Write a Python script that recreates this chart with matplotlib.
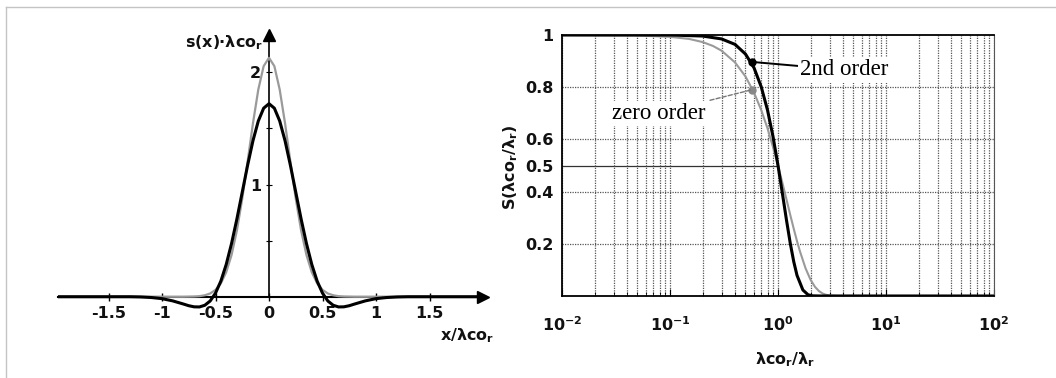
import matplotlib
matplotlib.use("Agg")
import matplotlib.pyplot as plt
from matplotlib.lines import Line2D
from matplotlib.ticker import LogLocator, NullFormatter, FixedLocator

# ---------------- data ----------------
# left panel: weighting functions s(x)*lambda_co
x_left = [-2.0, -1.6, -1.3, -1.2, -1.1, -1.0, -0.9, -0.8, -0.75, -0.7, -0.65, -0.6,
          -0.55, -0.5, -0.45, -0.4, -0.35, -0.3, -0.25, -0.2, -0.15, -0.1, -0.05, 0.0,
          0.05, 0.1, 0.15, 0.2, 0.25, 0.3, 0.35, 0.4, 0.45, 0.5, 0.55, 0.6,
          0.65, 0.7, 0.75, 0.8, 0.9, 1.0, 1.1, 1.2, 1.3, 1.6, 2.0]
s_second = [0.0, 0.0, 0.0, -0.002, -0.007, -0.017, -0.037, -0.065, -0.080, -0.090, -0.091, -0.076,
            -0.038, 0.032, 0.139, 0.287, 0.474, 0.693, 0.932, 1.171, 1.390, 1.566, 1.680, 1.720,
            1.680, 1.566, 1.390, 1.171, 0.932, 0.693, 0.474, 0.287, 0.139, 0.032, -0.038, -0.076,
            -0.091, -0.090, -0.080, -0.065, -0.037, -0.017, -0.007, -0.002, 0.0, 0.0, 0.0]
s_zero = [0.0, 0.0, 0.0, 0.0, 0.0, 0.0, 0.0, 0.0, 0.001, 0.002, 0.005, 0.013,
          0.029, 0.061, 0.119, 0.218, 0.372, 0.591, 0.874, 1.204, 1.545, 1.846, 2.055, 2.129,
          2.055, 1.846, 1.545, 1.204, 0.874, 0.591, 0.372, 0.218, 0.119, 0.061, 0.029, 0.013,
          0.005, 0.002, 0.001, 0.0, 0.0, 0.0, 0.0, 0.0, 0.0, 0.0, 0.0]
x_ticks_left = [-1.5, -1, -0.5, 0, 0.5, 1, 1.5]
x_ticklabels_left = ["-1.5", "-1", "-0.5", "0", "0.5", "1", "1.5"]
y_ticks_left = [1, 2]

# right panel: transmission characteristics
u_second = [0.01, 0.05, 0.1, 0.2, 0.3, 0.4, 0.5, 0.6, 0.7, 0.8, 0.9, 1.0,
            1.1, 1.2, 1.3, 1.4, 1.5, 1.7, 1.9, 2.1, 2.5, 100]
S_second = [1.0, 1.0, 1.0, 0.996, 0.985, 0.964, 0.927, 0.874, 0.801, 0.712, 0.610, 0.5,
            0.391, 0.289, 0.201, 0.131, 0.079, 0.023, 0.0045, 0.0006, 0.0, 0.0]
u_zero = [0.01, 0.05, 0.1, 0.15, 0.2, 0.25, 0.3, 0.4, 0.5, 0.6, 0.7, 0.8, 0.9, 1.0,
          1.1, 1.2, 1.3, 1.4, 1.5, 1.6, 1.8, 2.0, 2.2, 2.4, 2.6, 2.8, 3.0, 3.5, 100]
S_zero = [1.0, 0.998, 0.993, 0.985, 0.973, 0.958, 0.940, 0.895, 0.841, 0.779, 0.712, 0.642, 0.570, 0.5,
          0.432, 0.369, 0.310, 0.257, 0.210, 0.170, 0.106, 0.0625, 0.035, 0.0185, 0.0092, 0.0044, 0.002, 0.0002, 0.0]
y_ticks_right = [0.2, 0.4, 0.5, 0.6, 0.8, 1.0]
y_ticklabels_right = ["0.2", "0.4", "0.5", "0.6", "0.8", "1"]
marker_u = 0.57
marker_second = 0.897
marker_zero = 0.79

# ---------------- figure ----------------
W, H = 1056, 378
fig = plt.figure(figsize=(W / 100, H / 100), dpi=100)
fig.patch.set_facecolor("white")

def px(x0, y0, x1, y1):
    return [x0 / W, 1 - y1 / H, (x1 - x0) / W, (y1 - y0) / H]

# frame lines of the image
fig.add_artist(Line2D([6 / W, 1.0], [1 - 7 / H, 1 - 7 / H], color="#c4c4c4", lw=1.0))
fig.add_artist(Line2D([6 / W, 6 / W], [0.0, 1 - 7 / H], color="#c4c4c4", lw=1.0))

sans = "DejaVu Sans"
GRAY = "#9a9a9a"

# ---------------- left panel ----------------
axL = fig.add_axes(px(58, 33, 483, 330.4))
axL.set_xlim(-1.972, 2.0)
axL.set_ylim(-0.3, 2.35)
axL.plot(x_left, s_zero, color=GRAY, lw=1.6, zorder=3)
axL.plot(x_left, s_second, color="black", lw=2.2, zorder=4)

for side in ("top", "right"):
    axL.spines[side].set_visible(False)
axL.spines["left"].set_position(("data", 0))
axL.spines["bottom"].set_position(("data", 0))
axL.spines["left"].set_bounds(0, 2.3)
axL.spines["bottom"].set_bounds(-1.972, 1.95)
axL.spines["left"].set_linewidth(1.2)
axL.spines["bottom"].set_linewidth(1.5)
axL.plot(2.0, 0, marker=">", color="black", markersize=8, clip_on=False, zorder=5)
axL.plot(0, 2.33, marker="^", color="black", markersize=8, clip_on=False, zorder=5)

axL.set_xticks(x_ticks_left)
axL.set_xticklabels(x_ticklabels_left)
axL.set_yticks(y_ticks_left)
axL.set_yticklabels([str(v) for v in y_ticks_left])
axL.yaxis.set_minor_locator(FixedLocator([0.5, 1.5]))
axL.tick_params(axis="x", direction="inout", length=6, width=1, pad=4,
                labelsize=11.5, labelcolor="#111111")
axL.tick_params(axis="y", direction="inout", length=5, width=0.8, pad=3,
                labelsize=11.5, labelcolor="#111111")
axL.tick_params(axis="y", which="minor", direction="inout", length=4, width=0.8)
for lab in axL.get_xticklabels() + axL.get_yticklabels():
    lab.set_fontweight("bold")
    lab.set_family(sans)
axL.patch.set_alpha(0)

fig.text(263 / W, 1 - 43 / H, "s(x)·λco$_{\\mathbf{r}}$", ha="right", va="center",
         fontsize=11.5, fontweight="bold", family=sans, color="#111111")
fig.text(440 / W, 1 - 336 / H, "x/λco$_{\\mathbf{r}}$", ha="left", va="center",
         fontsize=11.5, fontweight="bold", family=sans, color="#111111")

# ---------------- right panel ----------------
axR = fig.add_axes(px(562, 35, 994, 296))
axR.set_xscale("log")
axR.set_xlim(0.01, 100)
axR.set_ylim(0, 1)

axR.xaxis.set_major_locator(LogLocator(base=10, numticks=10))
axR.xaxis.set_minor_locator(LogLocator(base=10, subs=range(2, 10), numticks=100))
axR.xaxis.set_minor_formatter(NullFormatter())
axR.grid(True, which="both", axis="x", color="#555555", lw=0.9, linestyle=(0, (1, 1)))
axR.set_yticks(y_ticks_right)
axR.set_yticklabels(y_ticklabels_right)
for yv in [0.2, 0.4, 0.6, 0.8]:
    axR.axhline(yv, color="#555555", lw=0.9, linestyle=(0, (1, 1)), zorder=1)
axR.plot([0.01, 1.0], [0.5, 0.5], color="#333333", lw=0.9, zorder=1)

axR.plot(u_zero, S_zero, color=GRAY, lw=1.5, zorder=3)
axR.plot(u_second, S_second, color="black", lw=2.2, zorder=4)
axR.plot([marker_u], [marker_second], marker="o", color="black", markersize=5, zorder=5)
axR.plot([marker_u], [marker_zero], marker="o", color="#888888", markersize=5, zorder=5)

axR.annotate("2nd order", xy=(marker_u, marker_second), xytext=(1.6, 0.866),
             fontsize=16.5, family="Liberation Serif", color="black", va="center", ha="left",
             bbox=dict(boxstyle="square,pad=0.1", fc="white", ec="none"),
             arrowprops=dict(arrowstyle="-", color="black", lw=1.4,
                             shrinkA=0, shrinkB=0), zorder=6)
axR.annotate("zero order", xy=(marker_u, marker_zero), xytext=(0.211, 0.70),
             fontsize=16.5, family="Liberation Serif", color="black", va="center", ha="right",
             bbox=dict(boxstyle="square,pad=0.1", fc="white", ec="none"),
             arrowprops=dict(arrowstyle="-", color="#777777", lw=1.0, linestyle=(0, (3, 1.5)),
                             shrinkA=2, shrinkB=0), zorder=6)

for sp in axR.spines.values():
    sp.set_linewidth(1.3)
    sp.set_color("black")
axR.spines["right"].set_linewidth(0.8)
axR.spines["right"].set_color("#555555")
axR.tick_params(axis="y", length=0, pad=6, labelsize=11.5, labelcolor="#111111")
axR.tick_params(axis="x", which="major", direction="in", length=5, width=0.8, pad=14,
                labelsize=11.5, labelcolor="#111111")
axR.tick_params(axis="x", which="minor", direction="in", length=3, width=0.6)
for lab in axR.get_xticklabels() + axR.get_yticklabels():
    lab.set_fontweight("bold")
    lab.set_family(sans)

fig.text(785 / W, 1 - 360 / H, "λco$_{\\mathbf{r}}$/λ$_{\\mathbf{r}}$", ha="center", va="center",
         fontsize=11.5, fontweight="bold", family=sans, color="#111111")
fig.text(511 / W, 1 - 167 / H, "S(λco$_{\\mathbf{r}}$/λ$_{\\mathbf{r}}$)", ha="center", va="center",
         rotation=90, fontsize=11.5, fontweight="bold", family=sans, color="#111111")

fig.savefig("out.png", dpi=100, facecolor="white")
